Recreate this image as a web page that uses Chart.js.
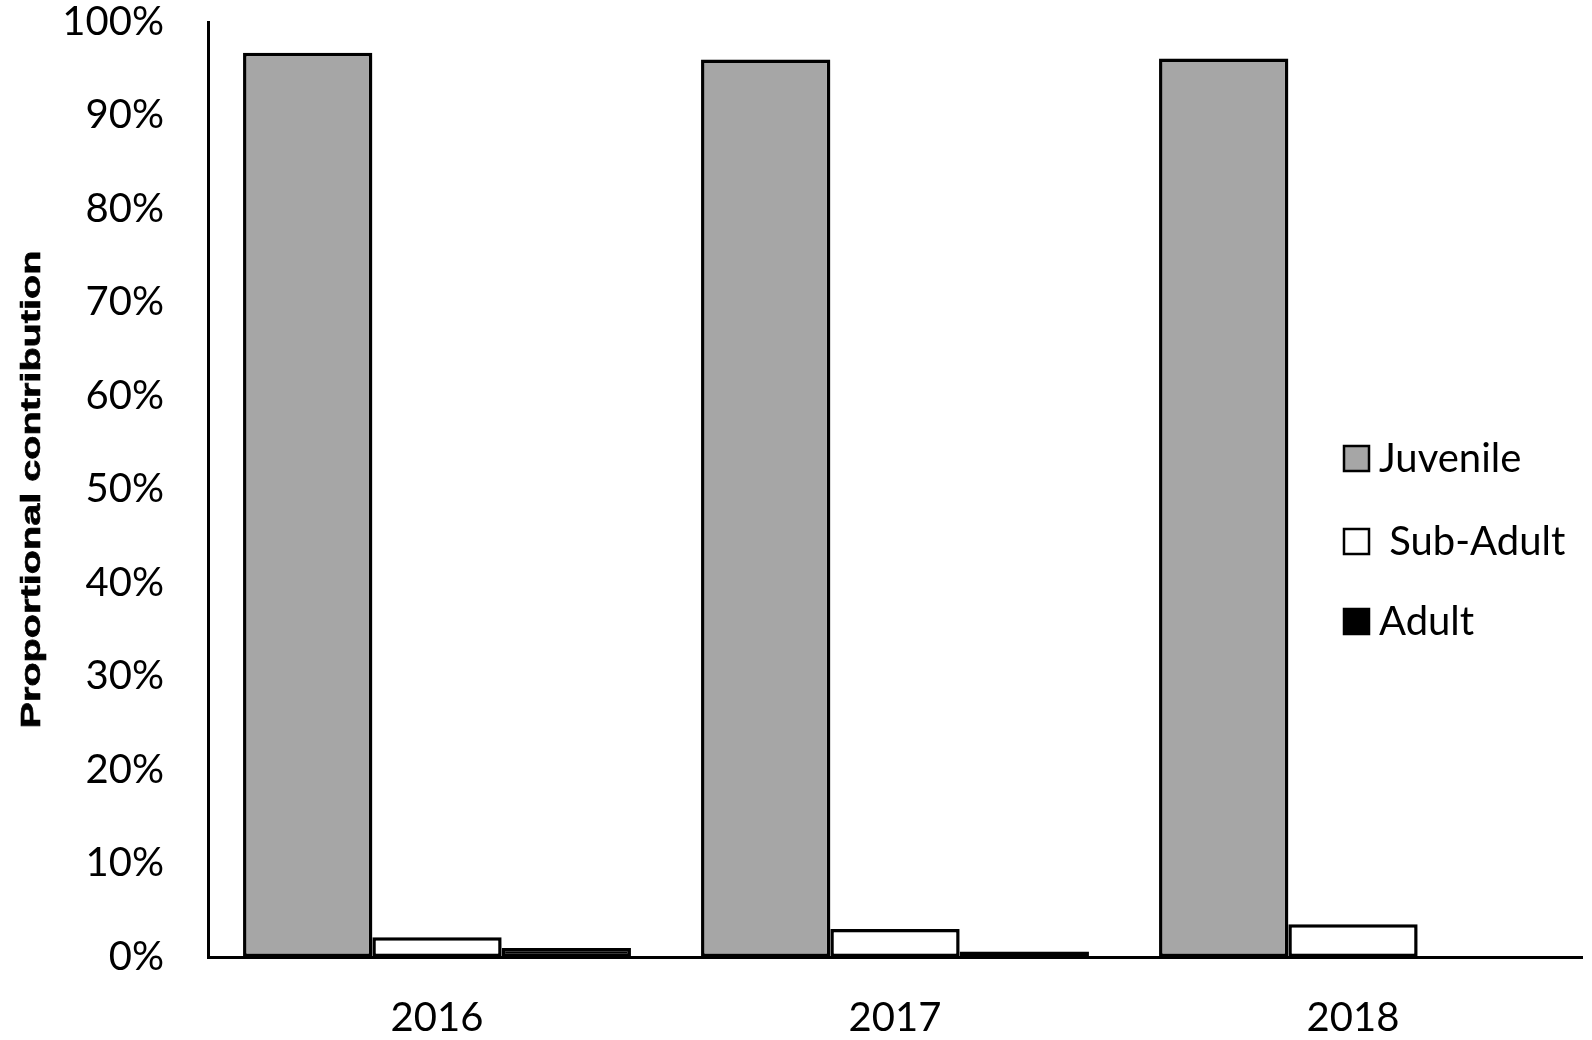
<!DOCTYPE html>
<html>
<head>
<meta charset="utf-8">
<script src="https://cdn.jsdelivr.net/npm/chart.js@4.4.1/dist/chart.umd.min.js"></script>
<style>
  html, body { margin: 0; padding: 0; background: #ffffff; }
  #wrap { width: 1592px; height: 1040px; position: relative; }
</style>
</head>
<body>
<div id="wrap"><canvas id="c" width="1592" height="1040"></canvas></div>
<script>
// ---- data ----
const categories = ['2016', '2017', '2018'];
const seriesNames = ['Juvenile', ' Sub-Adult', 'Adult'];
const juvenile = [96.7, 96.0, 96.1];
const subAdult = [2.1, 3.0, 3.5];
const adult = [0.95, 0.6, 0];
const yTickValues = [0, 10, 20, 30, 40, 50, 60, 70, 80, 90, 100];
const yTitle = 'Proportional contribution';

// ---- styles ----
const fills = ['#a6a6a6', '#ffffff', '#000000'];
const LABEL_FONT = 'Lato';

const shadowPlugin = {
  id: 'barShadow',
  beforeDatasetsDraw(chart) {
    const ctx = chart.ctx;
    ctx.save();
    ctx.shadowColor = 'rgba(0,0,0,0.15)';
    ctx.shadowBlur = 8;
    ctx.shadowOffsetX = 2;
    ctx.shadowOffsetY = 2;
  },
  afterDatasetsDraw(chart) {
    chart.ctx.restore();
  }
};

const legendPlugin = {
  id: 'sideLegend',
  afterDraw(chart) {
    const ctx = chart.ctx;
    ctx.save();
    const baselines = [472, 555, 635];
    chart.data.datasets.forEach((ds, i) => {
      const capCenter = baselines[i] - 14;
      ctx.fillStyle = ds.backgroundColor;
      ctx.fillRect(1344, capCenter - 12, 25, 25);
      ctx.lineWidth = 2.5;
      ctx.strokeStyle = '#000';
      ctx.strokeRect(1344, capCenter - 12, 25, 25);
      ctx.fillStyle = '#000';
      ctx.font = '40px ' + LABEL_FONT;
      ctx.textBaseline = 'alphabetic';
      ctx.textAlign = 'left';
      ctx.fillText(ds.label, 1379, baselines[i]);
    });
    ctx.restore();
  }
};

const yTitlePlugin = {
  id: 'yTitle',
  afterDraw(chart) {
    const ctx = chart.ctx;
    const area = chart.chartArea;
    ctx.save();
    ctx.font = 'bold 27px "Liberation Sans", Arial, sans-serif';
    const w = ctx.measureText(yTitle).width;
    const targetLen = 478;
    ctx.translate(40, (area.top + area.bottom) / 2);
    ctx.rotate(-Math.PI / 2);
    ctx.scale(targetLen / w, 1);
    ctx.fillStyle = '#000';
    ctx.strokeStyle = '#000';
    ctx.lineWidth = 0.6;
    ctx.textAlign = 'center';
    ctx.textBaseline = 'alphabetic';
    ctx.fillText(yTitle, 0, 0);
    ctx.strokeText(yTitle, 0, 0);
    ctx.restore();
  }
};

const datasets = [juvenile, subAdult, adult].map((vals, i) => ({
  label: seriesNames[i],
  data: vals,
  backgroundColor: fills[i],
  borderColor: '#000000',
  borderWidth: 3.5,
  borderSkipped: false,
  categoryPercentage: 0.847,
  barPercentage: 1.0
}));

new Chart(document.getElementById('c'), {
  type: 'bar',
  data: { labels: categories, datasets },
  plugins: [shadowPlugin, legendPlugin, yTitlePlugin],
  options: {
    responsive: false,
    animation: false,
    devicePixelRatio: 1,
    layout: { padding: { top: 22, right: 10, left: 0, bottom: 0 } },
    plugins: {
      legend: { display: false },
      tooltip: { enabled: false },
      title: { display: false }
    },
    scales: {
      x: {
        grid: { display: false, drawTicks: false },
        border: { display: true, color: '#000', width: 3 },
        ticks: {
          color: '#000',
          padding: 37,
          font: { family: LABEL_FONT, size: 40, lineHeight: 1.2 },
          maxRotation: 0
        },
        afterFit(scale) { scale.height = 83; }
      },
      y: {
        min: 0,
        max: 100,
        afterBuildTicks(scale) { scale.ticks = yTickValues.map(v => ({ value: v })); },
        grid: { display: false, drawTicks: false },
        border: { display: true, color: '#000', width: 3 },
        ticks: {
          color: '#000',
          padding: 44,
          font: { family: LABEL_FONT, size: 40, lineHeight: 1.1 },
          callback: (v) => v + '%'
        },
        title: { display: false },
        afterFit(scale) {
          scale.width = 208;
          scale.paddingTop = 22;
          scale.paddingBottom = 22;
        }
      }
    }
  }
});
</script>
</body>
</html>
